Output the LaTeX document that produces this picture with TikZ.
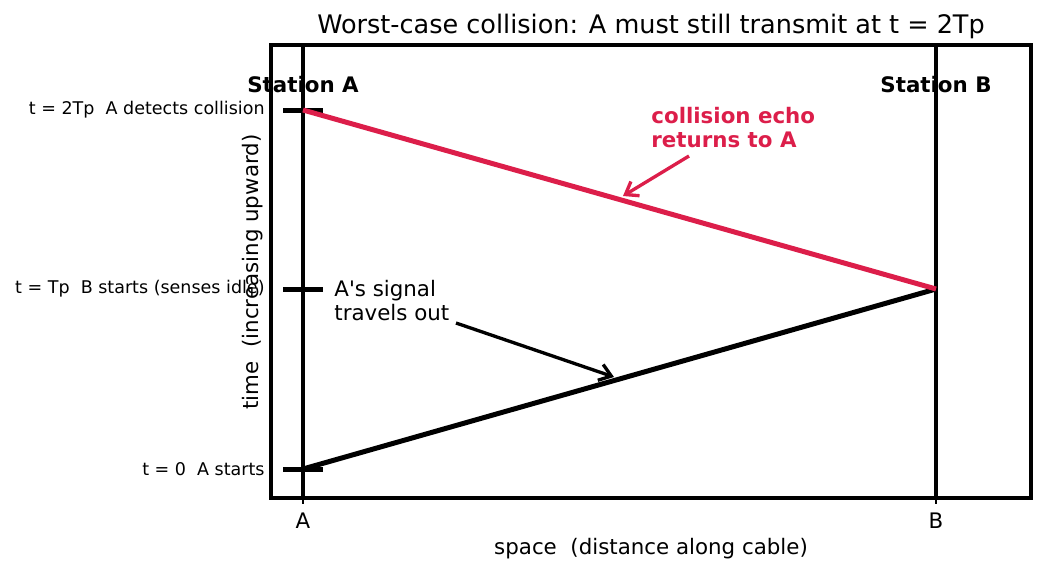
\documentclass[tikz,border=0pt]{standalone}
\usepackage{fontspec}
\setmainfont{DejaVu Sans}
\usetikzlibrary{arrows.meta, positioning}
\definecolor{echored}{HTML}{DC1E4A}

\begin{document}
\begin{tikzpicture}[x=0.48pt, y=-0.48pt,
	spine/.style={line width=2.3pt},
	station/.style={line width=2pt},
	tickmark/.style={line width=2.4pt},
	signal/.style={line width=2.4pt},
	ann/.style={-{Straight Barb[length=5.5pt, width=8pt]}, line width=1.6pt},
	ticklbl/.style={anchor=east, inner sep=0pt, font=\fontsize{8.4}{10}\selectfont},
	lbl/.style={inner sep=0pt, font=\fontsize{10.25}{11.4}\selectfont},
	stn/.style={inner sep=0pt, font=\fontsize{10.25}{11.4}\selectfont\bfseries},
	]
	\useasboundingbox (0,0) rectangle (1044,573);
	
	% Events on the two station lines
	\coordinate (a0) at (303,469);
	\coordinate (b1) at (936,289);
	\coordinate (a2) at (303,110);
	
	% Station lines
	\coordinate (atop) at (303,45);
	\coordinate (abot) at (303,498);
	\coordinate (btop) at (936,45);
	\coordinate (bbot) at (936,498);
	\draw[station] (atop) -- (abot);
	\draw[station] (btop) -- (bbot);
	
	% Time ticks and their labels
	\foreach \y/\txt/\nm in {469/{t = 0\ \ A starts}/t0,
		289/{t = Tp\ \ B starts (senses idle)}/t1,
		110/{t = 2Tp\ \ A detects collision}/t2} {
		\draw[tickmark] (283,\y) -- (323,\y);
		\node[ticklbl] (\nm) at (265,\y) {\txt};
	}
	
	% Signal paths
	\draw[signal] (a0) -- (b1);
	\draw[signal, echored] (b1) -- (a2);
	
	% Frame
	\draw[spine] (271,45) rectangle (1031,498);
	\draw[line width=0.8pt] (abot) -- ++(0,6);
	\draw[line width=0.8pt] (bbot) -- ++(0,6);
	
	% Axis texts
	\node[lbl] (xa) at (303,521) {A};
	\node[lbl] (xb) at (936,521) {B};
	\node[lbl] (xlabel) at (651,549) {space\ \ (distance along cable)};
	\node[lbl, rotate=90] (ylabel) at (253,272) {time\ \ (increasing upward)};
	\node[inner sep=0pt, font=\fontsize{12.25}{14.5}\selectfont] (title) at (651,26)
	{Worst-case collision: A must still transmit at t = 2Tp};
	
	% Station names
	\node[stn] (sa) at (303,85) {Station A};
	\node[stn] (sb) at (936,85) {Station B};
	
	% Annotations
	\node[lbl, anchor=north west, align=left] (sig) at (334,280) {A\textquotesingle s signal\\travels out};
	\coordinate (sigtail) at (456,323);
	\coordinate (sighead) at (614,377);
	\draw[ann] (sigtail) -- (sighead);
	
	\node[stn, echored, anchor=north west, align=left] (echo) at (651,107) {collision echo\\returns to A};
	\coordinate (echotail) at (689,156);
	\coordinate (echohead) at (623,196);
	\draw[ann, echored] (echotail) -- (echohead);
\end{tikzpicture}
\end{document}
